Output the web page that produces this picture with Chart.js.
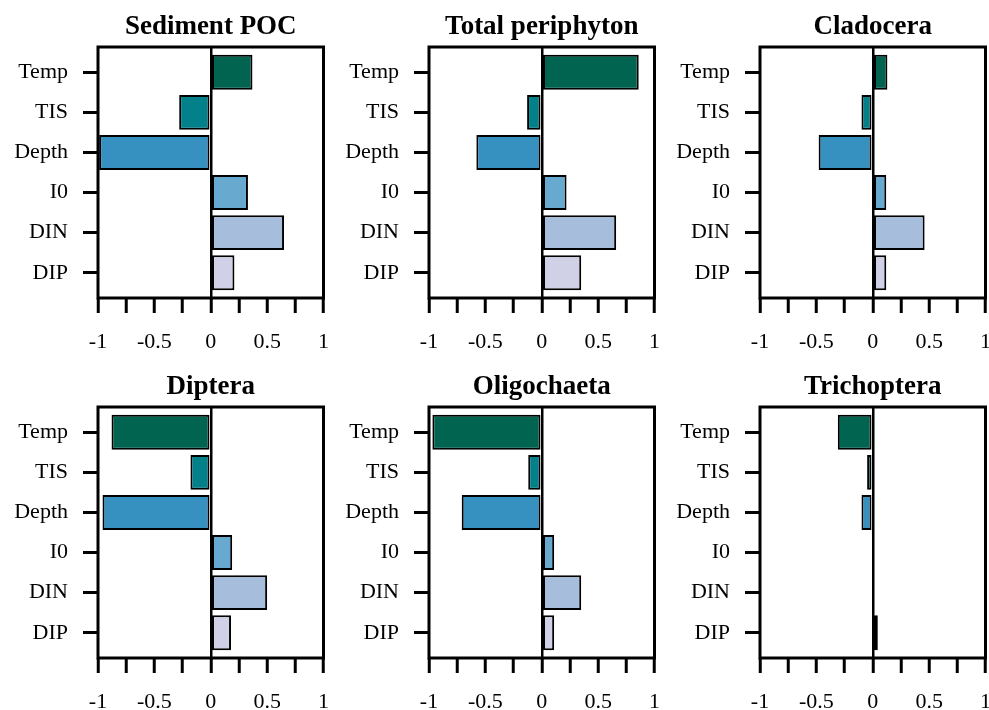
<!DOCTYPE html>
<html>
<head>
<meta charset="utf-8">
<script src="https://cdn.jsdelivr.net/npm/chart.js@4.4.0/dist/chart.umd.min.js"></script>
<style>
  html, body { margin: 0; padding: 0; background: #fff; overflow: hidden; }
  body { width: 989px; height: 710px; position: relative; }
  canvas { position: absolute; }
</style>
</head>
<body>
<canvas id="c0" width="345" height="360" style="left:0px;top:0px"></canvas>
<canvas id="c1" width="345" height="360" style="left:331px;top:0px"></canvas>
<canvas id="c2" width="345" height="360" style="left:662px;top:0px"></canvas>
<canvas id="c3" width="345" height="360" style="left:0px;top:360px"></canvas>
<canvas id="c4" width="345" height="360" style="left:331px;top:360px"></canvas>
<canvas id="c5" width="345" height="360" style="left:662px;top:360px"></canvas>
<script>
// predictors (top to bottom)
var categories = ['Temp', 'TIS', 'Depth', 'I0', 'DIN', 'DIP'];

// values
var sedimentPOC     = [0.37, -0.28, -0.99, 0.33, 0.65, 0.21];
var totalPeriphyton = [0.86, -0.13, -0.58, 0.22, 0.66, 0.35];
var cladocera       = [0.13, -0.10, -0.48, 0.12, 0.46, 0.12];
var diptera         = [-0.88, -0.18, -0.96, 0.19, 0.50, 0.18];
var oligochaeta     = [-0.97, -0.12, -0.71, 0.11, 0.35, 0.11];
var trichoptera     = [-0.31, -0.05, -0.10, 0, 0, 0.045];

var panelTitles = ['Sediment POC', 'Total periphyton', 'Cladocera', 'Diptera', 'Oligochaeta', 'Trichoptera'];
var panelData = [sedimentPOC, totalPeriphyton, cladocera, diptera, oligochaeta, trichoptera];

var xTickLabels = [-1, -0.5, 0, 0.5, 1];
var barColors = ['#016450', '#02818a', '#3690c0', '#67a9cf', '#a6bddb', '#d0d1e6'];

var serif = '"Liberation Serif", "Times New Roman", serif';

// frame + title drawn on top
var framePlugin = {
    id: 'panelFrame',
    afterDraw: function(chart, args, opts) {
        var ca = chart.chartArea;
        var ctx = chart.ctx;
        ctx.save();
        ctx.strokeStyle = '#000';
        ctx.lineWidth = 3;
        ctx.strokeRect(ca.left, ca.top, ca.right - ca.left, ca.bottom - ca.top);
        ctx.fillStyle = '#000';
        ctx.font = 'bold 27px ' + serif;
        ctx.textAlign = 'center';
        ctx.textBaseline = 'alphabetic';
        ctx.fillText(opts.text, (ca.left + ca.right) / 2, 34);
        ctx.restore();
    }
};

function makePanel(id, title, values) {
    var ctx = document.getElementById(id).getContext('2d');
    return new Chart(ctx, {
        type: 'bar',
        data: {
            datasets: [{
                data: values.map(function(v, i) { return { x: v, y: i }; }),
                backgroundColor: barColors,
                borderColor: '#000',
                borderWidth: 2,
                borderSkipped: false,
                categoryPercentage: 1,
                barPercentage: 0.87
            }]
        },
        plugins: [framePlugin],
        options: {
            indexAxis: 'y',
            responsive: false,
            animation: false,
            layout: { padding: { left: 0, right: 2, top: 47, bottom: 0 } },
            plugins: {
                legend: { display: false },
                tooltip: { enabled: false },
                panelFrame: { text: title }
            },
            scales: {
                x: {
                    type: 'linear',
                    min: -1,
                    max: 1,
                    afterFit: function(scale) { scale.height = 62; },
                    border: { display: false },
                    grid: {
                        color: function(c) { return c.tick && c.tick.value === 0 ? '#000' : 'rgba(0,0,0,0)'; },
                        lineWidth: 2.5,
                        tickColor: '#000',
                        tickWidth: 3,
                        tickLength: 15
                    },
                    ticks: {
                        stepSize: 0.25,
                        autoSkip: false,
                        maxRotation: 0,
                        padding: 16,
                        color: '#000',
                        font: { family: serif, size: 22 },
                        callback: function(v) { return xTickLabels.indexOf(v) >= 0 ? String(v) : ''; }
                    }
                },
                y: {
                    type: 'linear',
                    reverse: true,
                    offset: false,
                    min: -0.63,
                    max: 5.63,
                    afterFit: function(scale) { scale.width = 98; },
                    afterBuildTicks: function(scale) {
                        scale.ticks = categories.map(function(c, i) { return { value: i }; });
                    },
                    border: { display: false },
                    grid: {
                        offset: false,
                        drawOnChartArea: false,
                        tickColor: '#000',
                        tickWidth: 3,
                        tickLength: 15
                    },
                    ticks: {
                        padding: 15,
                        color: '#000',
                        font: { family: serif, size: 22 },
                        callback: function(v) { return categories[v]; }
                    }
                }
            }
        }
    });
}

for (var i = 0; i < 6; i++) {
    makePanel('c' + i, panelTitles[i], panelData[i]);
}
</script>
</body>
</html>
